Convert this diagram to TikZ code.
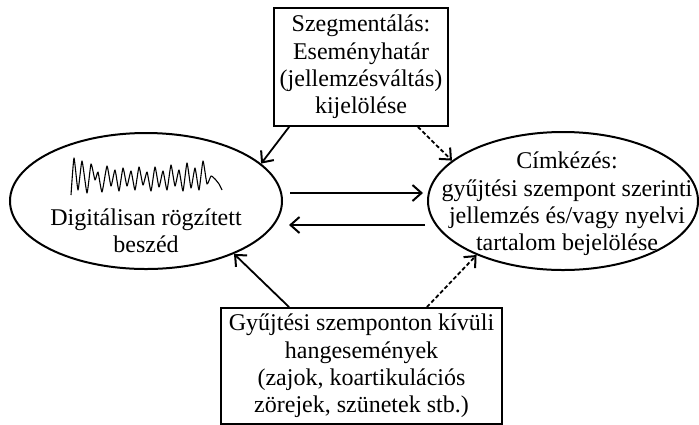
\documentclass[tikz,border=0pt]{standalone}
\usepackage{fontspec}
\setmainfont{Liberation Serif}
\usepackage{tikz}
\usetikzlibrary{arrows.meta,shapes.geometric}

\begin{document}
\begin{tikzpicture}[x=0.5pt,y=-0.5pt,
  >={Straight Barb[length=4.5pt,width=8pt,line width=1pt]},
  txt/.style={font=\fontsize{12pt}{13.7pt}\selectfont, align=center, inner sep=0pt},
  box/.style={txt, draw, line width=0.9pt},
  oval/.style={ellipse, draw, line width=1pt, inner sep=0pt},
  conn/.style={->, line width=0.9pt},
  dconn/.style={conn, dash pattern=on 2pt off 1.2pt}]
\useasboundingbox (0,0) rectangle (699,424);

% the two main states
\node[oval, minimum width=136pt, minimum height=68pt] (digi) at (146,201) {};
\node[oval, minimum width=135pt, minimum height=69pt] (cimke) at (563,201) {};
\node[txt] (digitxt) at (146,231) {Digitálisan rögzített\\beszéd};
\node[txt] (cimketxt) at (567,204) {Címkézés:\\gyűjtési szempont szerinti\\jellemzés és/vagy nyelvi\\tartalom bejelölése};

% speech signal
\draw[line width=0.55pt, line join=round] plot[smooth, tension=0.3] coordinates {
  (71,195) (74,158) (78,190) (82,161) (87,193) (91,164) (95,180) (98,172)
  (102,192) (107,166) (111,186) (115,170) (119,191) (123,168) (127,186)
  (131,171) (135,190) (139,167) (143,185) (147,172) (151,191) (155,167)
  (159,187) (163,171) (167,190) (171,165) (175,186) (179,170) (183,191)
  (187,163) (191,188) (195,168) (199,190) (203,161) (207,184) (211,176)
  (215,179) (219,184) (222,190)};

% boxes
\node[box, minimum width=87pt, minimum height=59pt] (seg) at (361,67)
  {Szegmentálás:\\Eseményhatár\\(jellemzésváltás)\\kijelölése};
\node[box, minimum width=140.5pt, minimum height=58pt] (event) at (361.5,366)
  {Gyűjtési szemponton kívüli\\hangesemények\\(zajok, koartikulációs\\zörejek, szünetek stb.)};

% connectors
\draw[conn] ([xshift=8pt]seg.south west) -- (digi.18);
\draw[dconn] ([xshift=-15.5pt]seg.south east) -- (cimke.160);
\draw[conn, shorten <=3.5pt, shorten >=2pt] ([yshift=4pt]digi.east) -- ([yshift=4pt]cimke.west);
\draw[conn, shorten <=1pt, shorten >=3pt] ([yshift=-12pt]cimke.west) -- ([yshift=-12pt]digi.east);
\draw[conn] ([xshift=34.5pt]event.north west) -- (digi.-31);
\draw[dconn] ([xshift=-38pt]event.north east) -- (cimke.-148);
\end{tikzpicture}
\end{document}
